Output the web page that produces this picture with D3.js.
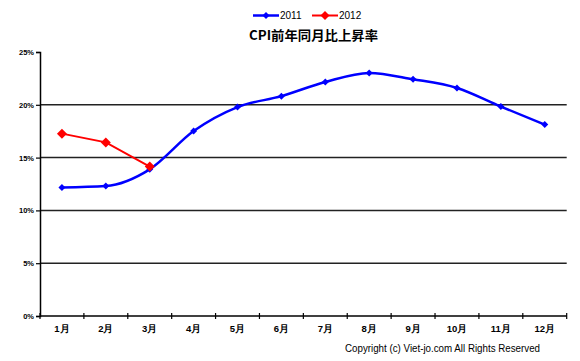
<!DOCTYPE html>
<html><head><meta charset="utf-8">
<script src="https://cdn.jsdelivr.net/npm/d3@7"></script>
<style>body{margin:0;background:#fff}svg{display:block}</style>
</head><body>
<svg id="c" width="580" height="361"></svg>
<script>
const months = ["1月","2月","3月","4月","5月","6月","7月","8月","9月","10月","11月","12月"];
const values2011 = [12.17,12.31,13.89,17.51,19.78,20.82,22.16,23.02,22.42,21.59,19.83,18.13];
const values2012 = [17.27,16.44,14.15];
const yTicks = [0,5,10,15,20,25];
const seriesNames = ["2011","2012"];
const titleText = "CPI前年同月比上昇率";
const copyrightText = "Copyright (c) Viet-jo.com All Rights Reserved";

const svg = d3.select("#c");
const L = 40, R = 566.7, T = 52, B = 316;
const x = d3.scaleBand().domain(months).range([L, R]);
const y = d3.scaleLinear().domain([0,25]).range([B, T]);
const font = "Arial, 'Liberation Sans', sans-serif";

// gridlines
svg.append("g").selectAll("line").data(yTicks.filter(d=>d>0&&d<25)).join("line")
  .attr("x1", L).attr("x2", R).attr("y1", d=>y(d)).attr("y2", d=>y(d))
  .attr("stroke", "#222").attr("stroke-width", 1.5);

// y axis
const ya = svg.append("g").attr("transform",`translate(${L},0)`)
  .call(d3.axisLeft(y).tickValues(yTicks).tickFormat(d=>d+"%").tickSize(4).tickPadding(2));
ya.select(".domain").attr("stroke","#000").attr("stroke-width",1.5);
ya.selectAll(".tick line").attr("stroke","#000").attr("stroke-width",1.2);
ya.selectAll("text").attr("font-family",font).attr("font-size",7.5).attr("font-weight","bold").attr("fill","#000");

// x axis
const xa = svg.append("g").attr("transform",`translate(0,${B})`);
xa.append("line").attr("x1",L).attr("x2",R).attr("stroke","#000").attr("stroke-width",1.5);
const bounds = months.map((m)=>x(m)).concat([R]);
xa.selectAll("line.tk").data(bounds).join("line").attr("class","tk")
  .attr("x1",d=>d).attr("x2",d=>d).attr("y1",-3).attr("y2",3).attr("stroke","#000").attr("stroke-width",1.2);
xa.selectAll("text").data(months).join("text")
  .attr("x", d=>x(d)+x.bandwidth()/2).attr("y", 16)
  .attr("text-anchor","middle").attr("font-family",font).attr("font-size",9.5).attr("font-weight","bold").text(d=>d);

const cx = (i)=>x(months[i])+x.bandwidth()/2;

// 2011 line (smoothed)
const line2011 = d3.line().x((d,i)=>cx(i)).y(d=>y(d)).curve(d3.curveMonotoneX);
svg.append("path").datum(values2011).attr("d", line2011).attr("fill","none")
  .attr("stroke","#0000ff").attr("stroke-width",2.5);
const line2012 = d3.line().x((d,i)=>cx(i)).y(d=>y(d));
svg.append("path").datum(values2012).attr("d", line2012).attr("fill","none")
  .attr("stroke","#ff0000").attr("stroke-width",2);

const diamond = (s)=>`M0,${-s}L${s},0L0,${s}L${-s},0Z`;
svg.append("g").selectAll("path").data(values2011).join("path")
  .attr("transform",(d,i)=>`translate(${cx(i)},${y(d)})`).attr("d",diamond(3.5)).attr("fill","#0000ff");
svg.append("g").selectAll("path").data(values2012).join("path")
  .attr("transform",(d,i)=>`translate(${cx(i)},${y(d)})`).attr("d",diamond(5)).attr("fill","#ff0000");

// legend
const lg = svg.append("g");
const leg = [{name:seriesNames[0],c:"#0000ff",x1:253,x2:279,s:3.5,w:2.5},{name:seriesNames[1],c:"#ff0000",x1:312,x2:338,s:4.5,w:2}];
leg.forEach(l=>{
  lg.append("line").attr("x1",l.x1).attr("x2",l.x2).attr("y1",15.5).attr("y2",15.5).attr("stroke",l.c).attr("stroke-width",l.w);
  lg.append("path").attr("transform",`translate(${(l.x1+l.x2)/2},15.5)`).attr("d",diamond(l.s)).attr("fill",l.c);
  lg.append("text").attr("x",l.x2+1).attr("y",19).attr("font-family",font).attr("font-size",10).attr("fill","#000").text(l.name);
});

// title
svg.append("text").attr("x",249).attr("y",40).attr("font-family","'Noto Sans CJK JP', sans-serif")
  .attr("font-size",13).attr("font-weight","bold").attr("textLength",129).attr("lengthAdjust","spacingAndGlyphs").text(titleText);

// copyright
svg.append("text").attr("x",345).attr("y",352).attr("font-family",font)
  .attr("font-size",10).attr("textLength",195).attr("lengthAdjust","spacingAndGlyphs").attr("fill","#000").text(copyrightText);
</script>
</body></html>
